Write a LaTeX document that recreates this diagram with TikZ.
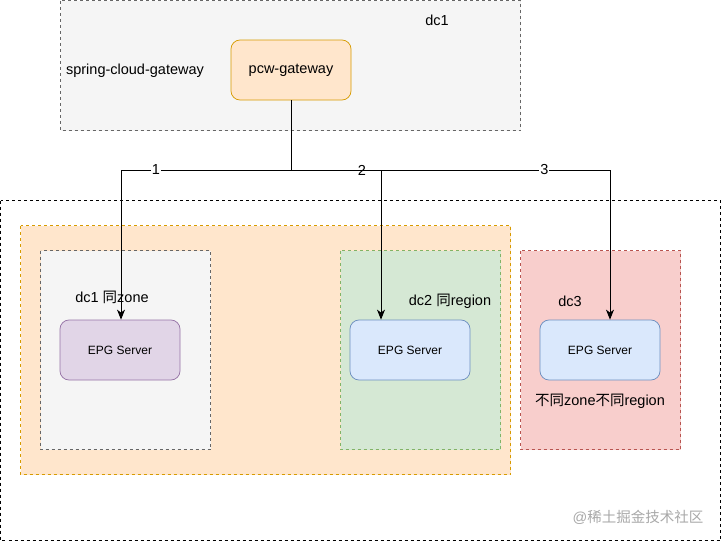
\documentclass[tikz,border=0pt]{standalone}
\usepackage{fontspec}
\setmainfont{Liberation Sans}
\newfontfamily\cjk{Noto Sans CJK SC}
\usetikzlibrary{arrows.meta}
\definecolor{grayfill}{HTML}{F5F5F5}
\definecolor{graydraw}{HTML}{666666}
\definecolor{orangefill}{HTML}{FFE6CC}
\definecolor{orangedraw}{HTML}{D79B00}
\definecolor{greenfill}{HTML}{D5E8D4}
\definecolor{greendraw}{HTML}{82B366}
\definecolor{redfill}{HTML}{F8CECC}
\definecolor{reddraw}{HTML}{B85450}
\definecolor{purplefill}{HTML}{E1D5E7}
\definecolor{purpledraw}{HTML}{9673A6}
\definecolor{bluefill}{HTML}{DAE8FC}
\definecolor{bluedraw}{HTML}{6C8EBF}
\definecolor{wmark}{HTML}{A8A8A8}
\tikzset{
  zonebox/.style={line width=0.75pt, dash pattern=on 3pt off 3pt},
  server/.style={rounded corners=9pt, line width=0.75pt, minimum width=120pt, minimum height=60pt, inner sep=0pt, font=\fontsize{12}{14}\selectfont},
  lbl/.style={font=\fontsize{14.5}{17}\selectfont, inner sep=0pt},
  conn/.style={line width=0.9pt, black},
  arr/.style={conn, -{Stealth[length=10pt,width=8pt,inset=3pt]}},
  elabel/.style={lbl, fill=white, inner sep=1pt}
}
\begin{document}
\begin{tikzpicture}[x=1pt,y=-1pt]
\useasboundingbox (0,0) rectangle (721,541);
% dc1 top box
\draw[zonebox, fill=grayfill, draw=graydraw] (60.5,0.5) rectangle (520.5,130.5);
\node[lbl] (dc1top) at (437,20) {dc1};
\node[lbl] (scg) at (135,71) {spring-cloud-gateway};
\node[server, fill=orangefill, draw=orangedraw, font=\fontsize{14.5}{17}\selectfont] (gw) at (291,70) {pcw-gateway};
% outer box
\draw[zonebox, draw=black] (0.5,200.5) rectangle (720.5,540.5);
% orange box
\draw[zonebox, fill=orangefill, draw=orangedraw] (20.5,225.5) rectangle (510.5,474.5);
% inner boxes
\draw[zonebox, fill=grayfill, draw=graydraw] (40.5,250.5) rectangle (210.5,449.5);
\draw[zonebox, fill=greenfill, draw=greendraw] (340.5,250.5) rectangle (500.5,449.5);
\draw[zonebox, fill=redfill, draw=reddraw] (520.5,250.5) rectangle (680.5,449.5);
% servers
\node[server, fill=purplefill, draw=purpledraw] (epg1) at (120,350) {EPG Server};
\node[server, fill=bluefill, draw=bluedraw] (epg2) at (410,350) {EPG Server};
\node[server, fill=bluefill, draw=bluedraw] (epg3) at (600,350) {EPG Server};
% labels
\node[lbl] (l1) at (112,297) {dc1 {\cjk 同}zone};
\node[lbl] (l2) at (450,301) {dc2 {\cjk 同}region};
\node[lbl] (l3) at (570,301) {dc3};
\node[lbl] (l4) at (600,401) {{\cjk 不同}zone{\cjk 不同}region};
\node[lbl, text=wmark] (wm) at (638,517) {@{\cjk 稀土掘金技术社区}};
% connectors
\coordinate (j) at (291,170);
\draw[conn] (gw.south) -- (j);
\draw[arr] (j) -| ([xshift=1pt]epg1.north) node[elabel, pos=0.397] {1};
\draw[arr] (j) -| ([xshift=-29pt]epg2.north) node[elabel, pos=0.394] {2};
\draw[arr] (j) -| ([xshift=10pt]epg3.north) node[elabel, pos=0.397] {3};
\end{tikzpicture}
\end{document}
